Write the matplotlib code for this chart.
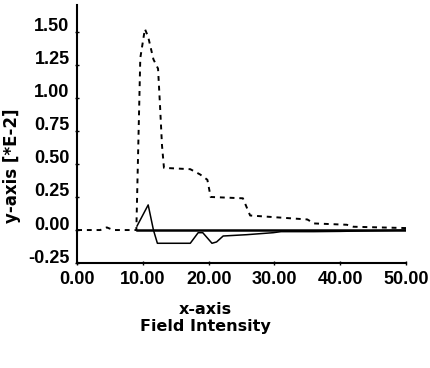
import matplotlib
matplotlib.use("Agg")
import matplotlib.pyplot as plt
import matplotlib.transforms as mtransforms

# dotted series
dash_x = [0, 3.5, 4.5, 5.5, 9.0, 9.6, 10.3, 10.8, 11.6, 12.3, 12.6, 12.9, 13.2,
          17.2, 18.7, 19.8, 20.3, 25.2, 26.3, 35.0, 36.0, 41.0, 42.0, 50.0]
dash_y = [0, 0, 0.02, 0, 0, 1.30, 1.52, 1.46, 1.29, 1.22, 0.94, 0.64, 0.47,
          0.46, 0.42, 0.38, 0.25, 0.24, 0.11, 0.08, 0.05, 0.04, 0.025, 0.015]

# solid series
solid_x = [9.1, 10.8, 11.6, 12.2, 17.2, 18.4, 19.1, 20.5, 21.2, 22.2, 25.8,
           29.8, 31.0, 36.0, 40.0, 45.0, 50.0]
solid_y = [0.03, 0.19, 0.0, -0.10, -0.10, -0.02, -0.02, -0.10, -0.09, -0.045,
           -0.035, -0.02, -0.012, -0.012, -0.01, -0.005, 0.0]

# baseline
base_x = [9.1, 50.0]
base_y = [0.0, 0.0]

xticks = [0, 10, 20, 30, 40, 50]
yticks = [-0.25, 0.0, 0.25, 0.5, 0.75, 1.0, 1.25, 1.5]

tick_font = ['Liberation Sans', 'DejaVu Sans']
label_font = ['DejaVu Sans']

fig = plt.figure(figsize=(4.31, 3.68), dpi=100)
ax = fig.add_axes([0.179, 0.285, 0.763, 0.701])

ax.plot(dash_x, dash_y, color='black', lw=1.4, linestyle=(0, (2.5, 2.5)))
ax.plot(solid_x, solid_y, color='black', lw=1.1)
ax.plot(base_x, base_y, color='black', lw=1.8)

ax.set_xlim(0, 50)
ax.set_ylim(-0.25, 1.70)
ax.set_xticks(xticks)
ax.set_xticklabels(["%.2f" % v for v in xticks], family=tick_font,
                   fontweight='bold', fontsize=13)
ax.set_yticks(yticks)
ax.set_yticklabels(["%.2f" % v for v in yticks], family=tick_font,
                   fontweight='bold', fontsize=13)

ax.spines['top'].set_visible(False)
ax.spines['right'].set_visible(False)
ax.spines['left'].set_linewidth(1.5)
ax.spines['bottom'].set_linewidth(1.5)
ax.tick_params(axis='both', direction='inout', length=3, width=1, pad=4)

# y labels sit a little above their ticks
offset = mtransforms.ScaledTranslation(0, 7 / 100, fig.dpi_scale_trans)
for lab in ax.get_yticklabels():
    lab.set_transform(lab.get_transform() + offset)

fig.text(205 / 431, 1 - 318 / 368, "x-axis\nField Intensity", ha='center',
         va='center', fontsize=11.5, fontweight='bold', linespacing=1.1,
         family=label_font)
fig.text(12 / 431, 1 - 166 / 368, "y-axis [*E-2]", ha='center', va='center',
         rotation=90, fontsize=12, fontweight='bold', family=label_font)

fig.savefig("out.png", dpi=100)
